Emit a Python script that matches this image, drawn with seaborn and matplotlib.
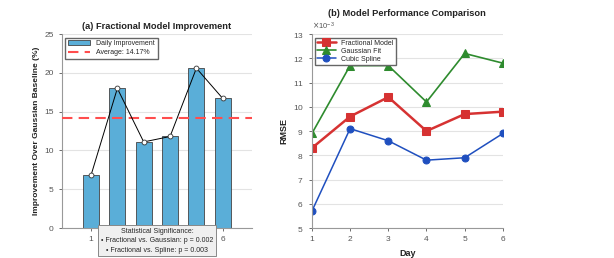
import numpy as np
import pandas as pd
import matplotlib
matplotlib.use("Agg")
import matplotlib.pyplot as plt
from matplotlib.ticker import ScalarFormatter
import seaborn as sns

# data
days = [1, 2, 3, 4, 5, 6]
day_labels = ["1", "", "", "", "", "6"]   # 2..5 sit under the text box
improvement = [6.8, 18.0, 11.1, 11.8, 20.6, 16.7]
avg_improvement = 14.17

rmse_fractional = [8.3e-3, 9.6e-3, 10.4e-3, 9.0e-3, 9.7e-3, 9.8e-3]
rmse_gaussian = [8.9e-3, 11.7e-3, 11.7e-3, 10.2e-3, 12.2e-3, 11.8e-3]
rmse_spline = [5.7e-3, 9.1e-3, 8.6e-3, 7.8e-3, 7.9e-3, 8.9e-3]

sig_text = ("Statistical Significance:\n"
            "\u2022 Fractional vs. Gaussian: p = 0.002\n"
            "\u2022 Fractional vs. Spline: p = 0.003")

sns.set_style("whitegrid", {"grid.color": "#e3e3e3", "axes.edgecolor": "#999999",
                            "xtick.bottom": True, "ytick.left": True})
plt.rcParams['font.family'] = ['Liberation Sans', 'DejaVu Sans']
plt.rcParams['font.size'] = 6
plt.rcParams['xtick.color'] = '#555555'
plt.rcParams['ytick.color'] = '#555555'
plt.rcParams['xtick.major.size'] = 2.5
plt.rcParams['ytick.major.size'] = 2.5
plt.rcParams['xtick.major.width'] = 0.6
plt.rcParams['ytick.major.width'] = 0.6

fig = plt.figure(figsize=(6.14, 2.58), dpi=100)
ax1 = fig.add_axes([0.101, 0.116, 0.309, 0.752])
ax2 = fig.add_axes([0.508, 0.116, 0.311, 0.752])

# ---- (a) bars
df_a = pd.DataFrame({"day": days, "impr": improvement})
sns.barplot(data=df_a, x="day", y="impr", native_scale=True, width=0.6,
            color="#5aaed8", saturation=1, edgecolor="#444444", linewidth=0.6,
            label="Daily Improvement", ax=ax1)
ax1.plot(days, improvement, color="black", lw=0.7, marker="o", ms=3.5,
         mfc="white", mec="#333333", mew=0.6, zorder=4)
ax1.axhline(avg_improvement, color="#ff4d4d", ls="--", lw=1.5, dashes=(5, 3),
            label="Average: %.2f%%" % avg_improvement, zorder=3)
ax1.set_xlim(-0.1, 7.1)
ax1.set_ylim(0, 25)
ax1.set_xticks(days)
ax1.set_xticklabels(day_labels)
ax1.set_yticks([0, 5, 10, 15, 20, 25])
ax1.set_xlabel("")
ax1.set_ylabel("Improvement Over Gaussian Baseline (%)", fontsize=6,
               fontweight="bold", color="#222222", labelpad=3)
ax1.set_title("(a) Fractional Model Improvement", fontsize=6.7, fontweight="bold",
              color="#222222", pad=4)
ax1.grid(axis="x", visible=False)
for s in ["top", "right"]:
    ax1.spines[s].set_visible(False)
h, l = ax1.get_legend_handles_labels()
order = [l.index("Daily Improvement"), l.index("Average: %.2f%%" % avg_improvement)]
ax1.legend([h[i] for i in order], [l[i] for i in order], loc="upper left",
           fontsize=5, frameon=True, fancybox=False, edgecolor="#666666",
           framealpha=1, borderpad=0.4, handlelength=3.2, labelspacing=0.3)
ax1.text(3.5, 0.0, sig_text, transform=ax1.get_xaxis_transform(),
         ha="center", va="top", multialignment="center", fontsize=5,
         zorder=10, clip_on=False, linespacing=1.45,
         bbox=dict(boxstyle="square,pad=0.4", fc="#f0f0f0", ec="#888888", lw=0.7))

# ---- (b) lines
sns.lineplot(x=days, y=rmse_fractional, color="#d63232", lw=1.8, marker="s",
             ms=5.5, mec="#d63232", label="Fractional Model", ax=ax2)
sns.lineplot(x=days, y=rmse_gaussian, color="#2e8b2e", lw=1.2, marker="^",
             ms=6, mec="#2e8b2e", label="Gaussian Fit", ax=ax2)
sns.lineplot(x=days, y=rmse_spline, color="#1f4fbf", lw=1.1, marker="o",
             ms=5, mec="#1f4fbf", label="Cubic Spline", ax=ax2)
ax2.set_xlim(1, 6)
ax2.set_ylim(5e-3, 13e-3)
ax2.set_xticks(days)
ax2.set_yticks(np.arange(5, 14) * 1e-3)
fmt = ScalarFormatter(useMathText=True)
fmt.set_powerlimits((-3, -3))
ax2.yaxis.set_major_formatter(fmt)
ax2.yaxis.get_offset_text().set_fontsize(5.5)
ax2.yaxis.get_offset_text().set_color("#555555")
ax2.set_xlabel("Day", fontsize=6.5, fontweight="bold", color="#222222")
ax2.set_ylabel("RMSE", fontsize=6.5, fontweight="bold", color="#222222", labelpad=3)
ax2.set_title("(b) Model Performance Comparison", fontsize=6.7, fontweight="bold",
              color="#222222", pad=4)
ax2.grid(axis="x", visible=False)
for s in ["top", "right"]:
    ax2.spines[s].set_visible(False)
ax2.legend(loc="upper left", fontsize=5, frameon=True, fancybox=False,
           edgecolor="#666666", framealpha=1, borderpad=0.3, handlelength=2.6,
           labelspacing=0.15)

fig.savefig("out.png", dpi=100)
